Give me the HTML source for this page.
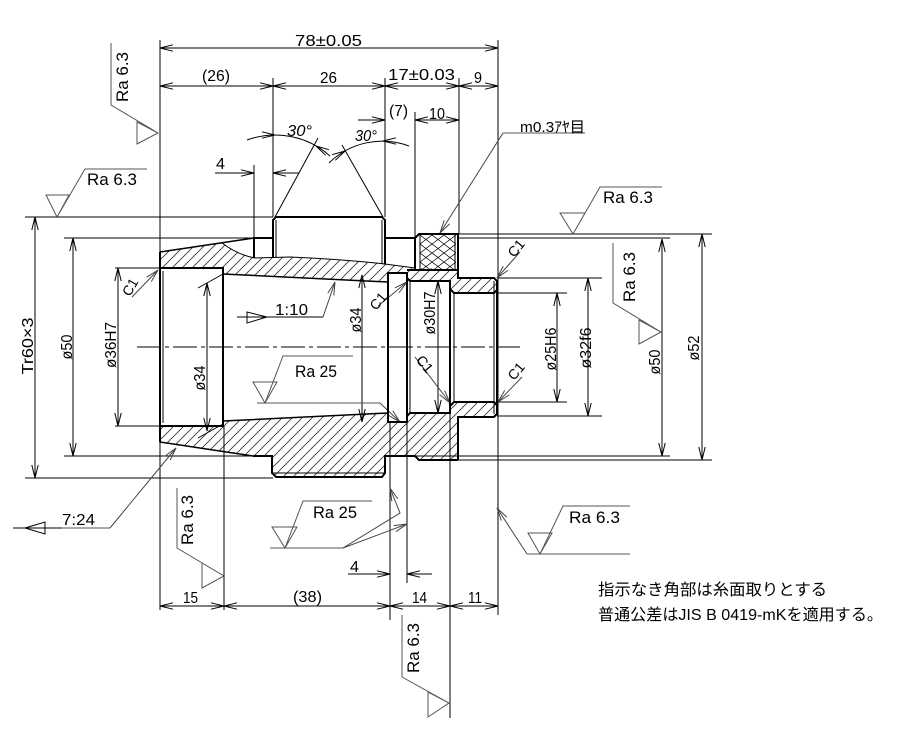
<!DOCTYPE html>
<html><head><meta charset="utf-8"><style>
html,body{margin:0;padding:0;background:#fff;}
svg{display:block;}
text{font-family:"Liberation Sans","Noto Sans CJK JP",sans-serif;fill:#000;}
</style></head><body>
<svg width="899" height="735" viewBox="0 0 899 735" xmlns="http://www.w3.org/2000/svg">
<defs>
<marker id="a" viewBox="-14 -5 15 10" refX="0" refY="0" markerWidth="15" markerHeight="10" markerUnits="userSpaceOnUse" orient="auto-start-reverse" overflow="visible"><path d="M-13,-3.2 L0,0 L-13,3.2" fill="none" stroke="#000" stroke-width="1"/></marker>
<marker id="g" viewBox="-14 -5 15 10" refX="0" refY="0" markerWidth="15" markerHeight="10" markerUnits="userSpaceOnUse" orient="auto-start-reverse" overflow="visible"><path d="M-13,-3.2 L0,0 L-13,3.2" fill="none" stroke="#444" stroke-width="1"/></marker>
<pattern id="h" width="10" height="10" patternUnits="userSpaceOnUse"><path d="M-1,11 L11,-1 M-1,1 L1,-1 M9,11 L11,9" stroke="#333" stroke-width="0.8"/></pattern>
<pattern id="k" width="12" height="9" patternUnits="userSpaceOnUse" x="420" y="235"><path d="M0,0 L12,9 M0,9 L12,0" stroke="#000" stroke-width="0.7"/></pattern>
</defs>
<rect width="899" height="735" fill="#fff"/>

<!-- hatching -->
<path d="M160,252 L222,243 Q238,255 255,258 L290,257 Q340,259 385,264 L415,268 L457,269 L458,278 L494,278 L497,281 L497,290 L494,293 L454,293 L450,289 L450,281 L410,281 L407,278 L407,273 L388,273 L388,282 L223,274 L223,268 L160,268 Z" fill="url(#h)"/>
<path d="M160,442 L253,456 L272,456 L272,473 L276,477 L382,477 L385,473 L385,456 L415,456 L419,460 L457,460 L458,417 L494,417 L497,414 L497,405 L494,402 L454,402 L450,406 L450,413 L410,413 L407,416 L407,422 L388,422 L388,413 L223,421 L223,426 L160,426 Z" fill="url(#h)"/>
<rect x="420" y="235" width="36" height="34" fill="url(#k)"/>

<!-- centre line -->
<path d="M137,347 H520" stroke="#000" stroke-width="1" stroke-dasharray="24 4 4 4" fill="none"/>

<!-- extension lines -->
<g stroke="#000" stroke-width="1" fill="none">
<path d="M160,40 V610 M498,40 V615 M273,78 V217 M385,78 V217 M459,78 V234 M415,112 V238 M254,165 V238 M224,426 V610 M390,422 V620 M407,422 V583 M450,413 V718"/>
<path d="M25,217 H273 M25,478 H273 M64,238 H254 M64,456 H253 M115,268 H160 M115,426 H160"/>
<path d="M458,234 H712 M458,460 H712 M458,238 H670 M385,456 H670 M497,278 H602 M497,416 H602 M497,293 H567 M497,402 H567"/>
<path d="M163,271 V423 M276,220 V258 M382,220 V264 M410,281 V413 M454,293 V402 M494,281 V414 M420,234 V269 M455,234 V269 M272,473 H385"/>
<path d="M222,243 Q238,255 255,258 L290,257 Q340,259 385,264 L415,268"/>
<path d="M198,288 L223,274 M198,438 L223,424"/>
<path d="M275,217 L318,138 M383,217 L342,145"/>
<path d="M247,140 A82,82 0 0 1 330,156"/>
<path d="M329,163 A76,76 0 0 1 409,146"/>
<path d="M262,131.8 L275,135 L262,138.2 M328.9,149.7 L316,146 L325.7,155.3"/>
<path d="M335.3,160.3 L345,151 L332.1,154.7 M396,137.8 L383,141 L396,144.2"/>
</g>

<!-- dimension lines -->
<g stroke="#000" stroke-width="1" fill="none" marker-start="url(#a)" marker-end="url(#a)">
<path d="M160,48 H498"/>
<path d="M160,86 H273"/><path d="M273,86 H385"/><path d="M385,86 H459"/><path d="M459,86 H498"/>
<path d="M415,120 H459"/>
<path d="M160,606 H224"/><path d="M224,606 H390"/><path d="M390,606 H450"/><path d="M450,606 H498"/>
<path d="M35,217 V478"/><path d="M73,238 V456"/><path d="M118,268 V426"/><path d="M207,283 V431"/>
<path d="M362,275 V422"/><path d="M438,281 V413"/><path d="M557,293 V402"/><path d="M588,278 V416"/>
<path d="M662,239 V456"/><path d="M702,234 V460"/>
</g>
<g stroke="#000" stroke-width="1" fill="none" marker-end="url(#a)">
<path d="M358,120 H385"/>
<path d="M215,173 H254"/><path d="M299,173 H273"/>
<path d="M348,574 H390"/><path d="M432,574 H407"/>
</g>

<!-- leaders -->
<g stroke="#444" stroke-width="1" fill="none" marker-end="url(#g)">
<path d="M503,133 L440,233"/>
<path d="M110,528 L176,448"/>
<path d="M323,317 L335,282"/>
<path d="M380,403 L400,422"/>
<path d="M343,548 L400,513 L390,488"/>
<path d="M343,548 L407,524"/>
<path d="M527,554 L497,508"/>
<path d="M132,297 L158,270"/>
<path d="M378,306 L407,282"/>
<path d="M520,252 L497,278"/>
<path d="M522,377 L498,402"/>
<path d="M415,357 L450,403"/>
</g>
<g stroke="#555" stroke-width="1" fill="none">
<path d="M503,133 H585"/>
<path d="M62,528 H110"/>
<path d="M111,43 V105 L158,133 M137,122 V144 L158,133 Z"/>
<path d="M147,169 H85 L57,217 M46,195 H69 L57,217 Z"/>
<path d="M662,187 H600 L573,234 M560,213 H585 L573,234 Z"/>
<path d="M613,243 V303 L661,332 M639,320 V344 L661,332 Z"/>
<path d="M630,506 H563 L540,554 M528,533 H552 L540,554 Z M527,554 H630"/>
<path d="M353,356 H283 L265,403 M253,382 H277 L265,403 Z M257,403 H380"/>
<path d="M372,501 H303 L285,548 M272,527 H297 L285,548 Z M270,548 H343"/>
<path d="M177,488 V548 L224,576 M202,563 V588 L224,576 Z"/>
<path d="M402,615 V677 L449,703 M428,692 V717 L449,703 Z"/>
</g>
<g stroke="#000" stroke-width="1" fill="none">
<path d="M237,317 H323 M247,312 V323 L267,317 Z"/>
<path d="M13,528 H62 M25,528 L45,522 V534 Z"/>
</g>

<!-- part outline -->
<g stroke="#000" stroke-width="2" fill="none" stroke-linejoin="miter">
<path d="M160,252 L254,238" stroke-width="1.5"/>
<path d="M160,442 L253,456" stroke-width="1.5"/>
<path d="M223,274 L388,282 M223,421 L388,413" stroke-width="1.5"/>
<path d="M160,252 V442"/>
<path d="M160,268 H223 V426 H160"/>
<path d="M254,258 V238 H273"/>
<path d="M273,258 V220 L276,217 H382 L385,220 V264"/>
<path d="M385,238 H415 V270"/>
<path d="M415,238 L419,234 H458 V278 H494 L497,281 V414 L494,417 H458 V460"/>
<path d="M407,270 H458"/>
<path d="M388,422 V273 H407 V422 Z"/>
<path d="M407,278 L410,281 H450 V413 H410 L407,416"/>
<path d="M450,289 L454,293 H494 L497,290 M450,406 L454,402 H494 L497,405"/>
<path d="M253,456 H272 V473 L276,477 H382 L385,473 V456 H415 L419,460 H458"/>
</g>

<!-- dimension texts -->
<g font-size="16">
<text x="295" y="46" textLength="67" lengthAdjust="spacingAndGlyphs">78±0.05</text>
<text x="202" y="81" textLength="28" lengthAdjust="spacingAndGlyphs">(26)</text>
<text x="320" y="83" textLength="17" lengthAdjust="spacingAndGlyphs">26</text>
<text x="388" y="80" textLength="67" lengthAdjust="spacingAndGlyphs">17±0.03</text>
<text x="474" y="83" textLength="8" lengthAdjust="spacingAndGlyphs">9</text>
<text x="389" y="116" textLength="19" lengthAdjust="spacingAndGlyphs">(7)</text>
<text x="429" y="119" textLength="16" lengthAdjust="spacingAndGlyphs">10</text>
<text x="216" y="169" textLength="9" lengthAdjust="spacingAndGlyphs">4</text>
<text x="350" y="572" textLength="9" lengthAdjust="spacingAndGlyphs">4</text>
<text x="183" y="603" textLength="15" lengthAdjust="spacingAndGlyphs">15</text>
<text x="293" y="602" textLength="29" lengthAdjust="spacingAndGlyphs">(38)</text>
<text x="412" y="603" textLength="15" lengthAdjust="spacingAndGlyphs">14</text>
<text x="468" y="603" textLength="14" lengthAdjust="spacingAndGlyphs">11</text>
<text x="287" y="136" font-style="italic" textLength="25" lengthAdjust="spacingAndGlyphs">30°</text>
<text x="355" y="141" font-style="italic" textLength="22" lengthAdjust="spacingAndGlyphs">30°</text>
<text x="275" y="315" textLength="33" lengthAdjust="spacingAndGlyphs">1:10</text>
<text x="62" y="525" textLength="33" lengthAdjust="spacingAndGlyphs">7:24</text>
<text x="520" y="132" font-size="15" textLength="65" lengthAdjust="spacingAndGlyphs">m0.3ｱﾔ目</text>
<g font-size="17">
<text x="87" y="185" textLength="50" lengthAdjust="spacingAndGlyphs">Ra  6.3</text>
<text x="603" y="203" textLength="50" lengthAdjust="spacingAndGlyphs">Ra  6.3</text>
<text x="569" y="523" textLength="51" lengthAdjust="spacingAndGlyphs">Ra  6.3</text>
<text x="295" y="377" textLength="42" lengthAdjust="spacingAndGlyphs">Ra  25</text>
<text x="313" y="518" textLength="44" lengthAdjust="spacingAndGlyphs">Ra  25</text>
<text transform="translate(128,77) rotate(-90)" text-anchor="middle" textLength="50" lengthAdjust="spacingAndGlyphs">Ra  6.3</text>
<text transform="translate(635,277) rotate(-90)" text-anchor="middle" textLength="50" lengthAdjust="spacingAndGlyphs">Ra  6.3</text>
<text transform="translate(193,520) rotate(-90)" text-anchor="middle" textLength="50" lengthAdjust="spacingAndGlyphs">Ra  6.3</text>
<text transform="translate(419,648) rotate(-90)" text-anchor="middle" textLength="50" lengthAdjust="spacingAndGlyphs">Ra  6.3</text>
</g>
<text transform="translate(33,346) rotate(-90)" text-anchor="middle" textLength="57" lengthAdjust="spacingAndGlyphs">Tr60×3</text>
<text transform="translate(72,347) rotate(-90)" text-anchor="middle" textLength="25" lengthAdjust="spacingAndGlyphs">ø50</text>
<text transform="translate(116,345) rotate(-90)" text-anchor="middle" textLength="46" lengthAdjust="spacingAndGlyphs">ø36H7</text>
<text transform="translate(205,378) rotate(-90)" text-anchor="middle" textLength="25" lengthAdjust="spacingAndGlyphs">ø34</text>
<text transform="translate(361,320) rotate(-90)" text-anchor="middle" textLength="25" lengthAdjust="spacingAndGlyphs">ø34</text>
<text transform="translate(435,313) rotate(-90)" text-anchor="middle" textLength="43" lengthAdjust="spacingAndGlyphs">ø30H7</text>
<text transform="translate(556,349) rotate(-90)" text-anchor="middle" textLength="43" lengthAdjust="spacingAndGlyphs">ø25H6</text>
<text transform="translate(591,348) rotate(-90)" text-anchor="middle" textLength="41" lengthAdjust="spacingAndGlyphs">ø32f6</text>
<text transform="translate(660,362) rotate(-90)" text-anchor="middle" textLength="25" lengthAdjust="spacingAndGlyphs">ø50</text>
<text transform="translate(699,348) rotate(-90)" text-anchor="middle" textLength="25" lengthAdjust="spacingAndGlyphs">ø52</text>
</g>
<g font-size="14">
<text transform="translate(130,287) rotate(-60)" text-anchor="middle" dy="5">C1</text>
<text transform="translate(378,301) rotate(-50)" text-anchor="middle" dy="5">C1</text>
<text transform="translate(516,248) rotate(-50)" text-anchor="middle" dy="5">C1</text>
<text transform="translate(516,371) rotate(-50)" text-anchor="middle" dy="5">C1</text>
<text transform="translate(425,364) rotate(50)" text-anchor="middle" dy="5">C1</text>
</g>
<text x="598" y="595" font-size="16" textLength="229" lengthAdjust="spacingAndGlyphs">指示なき角部は糸面取りとする</text>
<text x="598" y="620" font-size="16" textLength="285" lengthAdjust="spacingAndGlyphs">普通公差はJIS B 0419-mKを適用する。</text>
</svg>
</body></html>
